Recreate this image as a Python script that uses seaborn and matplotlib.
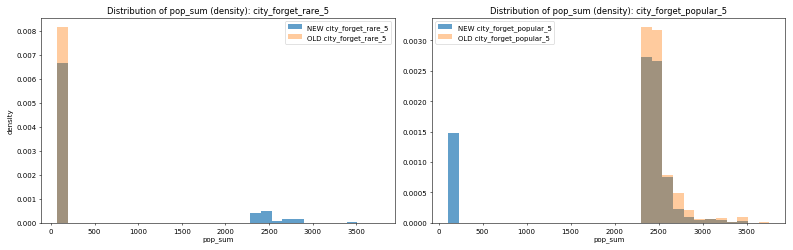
import numpy as np
import pandas as pd
import matplotlib
matplotlib.use('Agg')
import matplotlib.pyplot as plt
import seaborn as sns

# pop_sum range per panel (shared by NEW and OLD), 30 bins like plt.hist
n_bins = 30
rare_range = (74, 3760)
popular_range = (108, 3760)

# density per bin
rare_new = [0.00664, 0, 0, 0, 0, 0, 0, 0, 0, 0,
            0, 0, 0, 0, 0, 0, 0, 0, 0.00039, 0.00050,
            0.00008, 0.00017, 0.00017, 0.000012, 0, 0, 0.000012, 0.00005, 0.000012, 0.000012]
rare_old = [0.00814, 0, 0, 0, 0, 0, 0, 0, 0, 0,
            0, 0, 0, 0, 0, 0, 0, 0, 0, 0,
            0, 0, 0, 0, 0, 0, 0, 0, 0, 0]
popular_new = [0.00148, 0, 0, 0, 0, 0, 0, 0, 0, 0,
               0, 0, 0, 0, 0, 0, 0, 0, 0.00273, 0.00266,
               0.00076, 0.00023, 0.00010, 0.00005, 0.00006, 0.00005, 0.00001, 0.00003, 0, 0]
popular_old = [0, 0, 0, 0, 0, 0, 0, 0, 0, 0,
               0, 0, 0, 0, 0, 0, 0, 0, 0.00321, 0.00317,
               0.00079, 0.00049, 0.00021, 0.00006, 0.00006, 0.00008, 0.00002, 0.00009, 0, 0.00002]

panels = [
    ("city_forget_rare_5", rare_range, rare_new, rare_old, 'upper right'),
    ("city_forget_popular_5", popular_range, popular_new, popular_old, 'upper left'),
]

fig, axes = plt.subplots(1, 2, figsize=(15.86, 5.02), dpi=50)
for ax, (name, rng, new, old, loc) in zip(axes, panels):
    edges = np.linspace(rng[0], rng[1], n_bins + 1)
    df = pd.DataFrame({'pop_sum': (edges[:-1] + edges[1:]) / 2,
                       'new': new, 'old': old})
    sns.histplot(data=df, x='pop_sum', weights='new', bins=list(edges), stat='count', ax=ax,
                 color='#1f77b4', alpha=0.7, linewidth=0, label=f"NEW {name}")
    sns.histplot(data=df, x='pop_sum', weights='old', bins=list(edges), stat='count', ax=ax,
                 color='#ff7f0e', alpha=0.4, linewidth=0, label=f"OLD {name}")
    ax.set_title(f"Distribution of pop_sum (density): {name}")
    ax.set_xlabel("pop_sum")
    ax.set_ylabel("")
    ax.legend(loc=loc)

axes[0].set_ylabel("density")
plt.tight_layout()
plt.savefig('out.png', dpi=50)
